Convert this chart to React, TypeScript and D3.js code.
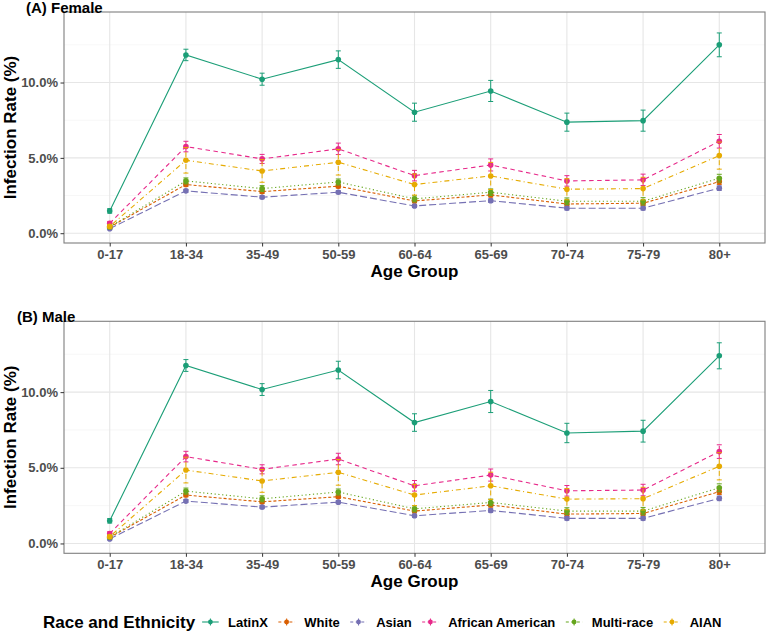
import * as d3 from "d3";
import React from "react";

const ages = ["0-17", "18-34", "35-49", "50-59", "60-64", "65-69", "70-74", "75-79", "80+"];
const races = ["LatinX", "White", "Asian", "African American", "Multi-race", "AIAN"];
const colors = ["#1B9E77", "#D95F02", "#7570B3", "#E7298A", "#66A61E", "#E6AB02"];
const dashes = ["none", "3,2", "7,3", "4.5,3.5", "1.2,2.6", "1,3,5,3"];
const yTicks = [0, 5, 10];
const yMinor = [2.5, 7.5, 12.5];

// Female rates (%) per race, in age order
const femaleLatinX = [1.48, 11.83, 10.22, 11.52, 8.03, 9.44, 7.37, 7.47, 12.5];
const femaleWhite = [0.4, 3.23, 2.76, 3.12, 2.14, 2.54, 1.94, 1.99, 3.42];
const femaleAsian = [0.3, 2.81, 2.39, 2.72, 1.81, 2.16, 1.66, 1.66, 2.99];
const femaleAfrican = [0.66, 5.75, 4.93, 5.6, 3.82, 4.53, 3.47, 3.54, 6.1];
const femaleMulti = [0.42, 3.47, 2.96, 3.4, 2.28, 2.72, 2.12, 2.12, 3.65];
const femaleAIAN = [0.45, 4.84, 4.13, 4.71, 3.23, 3.8, 2.92, 2.96, 5.15];

// Male rates (%)
const maleLatinX = [1.5, 11.76, 10.17, 11.46, 7.99, 9.38, 7.3, 7.42, 12.4];
const maleWhite = [0.4, 3.2, 2.75, 3.09, 2.14, 2.54, 1.94, 1.98, 3.42];
const maleAsian = [0.3, 2.8, 2.4, 2.73, 1.83, 2.18, 1.66, 1.66, 2.98];
const maleAfrican = [0.66, 5.74, 4.9, 5.58, 3.81, 4.52, 3.48, 3.53, 6.07];
const maleMulti = [0.42, 3.46, 2.95, 3.4, 2.29, 2.71, 2.14, 2.14, 3.68];
const maleAIAN = [0.45, 4.85, 4.13, 4.7, 3.2, 3.81, 2.93, 2.96, 5.1];

// Error half-widths (%)
const errLatinXF = [0.15, 0.38, 0.4, 0.58, 0.6, 0.7, 0.6, 0.7, 0.79];
const errLatinXM = [0.15, 0.39, 0.39, 0.58, 0.58, 0.73, 0.64, 0.72, 0.86];
const errWhite = [0.08, 0.12, 0.12, 0.12, 0.12, 0.14, 0.14, 0.15, 0.18];
const errAsian = [0.06, 0.1, 0.1, 0.1, 0.1, 0.12, 0.12, 0.12, 0.15];
const errAfrican = [0.12, 0.35, 0.3, 0.38, 0.35, 0.4, 0.35, 0.38, 0.45];
const errMulti = [0.1, 0.2, 0.2, 0.2, 0.2, 0.22, 0.22, 0.24, 0.26];
const errAIAN = [0.1, 0.85, 0.75, 0.85, 0.7, 0.9, 0.7, 0.75, 0.9];

const femaleSeries = [femaleLatinX, femaleWhite, femaleAsian, femaleAfrican, femaleMulti, femaleAIAN];
const maleSeries = [maleLatinX, maleWhite, maleAsian, maleAfrican, maleMulti, maleAIAN];
const femaleErr = [errLatinXF, errWhite, errAsian, errAfrican, errMulti, errAIAN];
const maleErr = [errLatinXM, errWhite, errAsian, errAfrican, errMulti, errAIAN];

const FONT = "'Liberation Sans', Arial, Helvetica, sans-serif";
const W = 768;
const H = 634;

export default function App() {
  const svgRef = React.useRef<SVGSVGElement>(null);

  React.useEffect(() => {
    const svg = d3.select(svgRef.current);
    svg.selectAll("*").remove();

    const left = 64;
    const right = 765;

    const x = d3.scalePoint<string>().domain(ages).range([left, right]).padding(0.6);

    function panel(top: number, bottom: number, label: string, labelX: number, series: number[][], errs: number[][]) {
      const y = d3.scaleLinear().domain([-0.65, 14.68]).range([bottom, top]);
      const g = svg.append("g");

      // grid
      g.selectAll(".minor")
        .data(yMinor)
        .join("line")
        .attr("x1", left)
        .attr("x2", right)
        .attr("y1", (d) => y(d))
        .attr("y2", (d) => y(d))
        .attr("stroke", "#f2f2f2")
        .attr("stroke-width", 0.6);
      g.selectAll(".major")
        .data(yTicks)
        .join("line")
        .attr("x1", left)
        .attr("x2", right)
        .attr("y1", (d) => y(d))
        .attr("y2", (d) => y(d))
        .attr("stroke", "#e6e6e6")
        .attr("stroke-width", 1.1);
      g.selectAll(".vgrid")
        .data(ages)
        .join("line")
        .attr("x1", (d) => x(d)!)
        .attr("x2", (d) => x(d)!)
        .attr("y1", top)
        .attr("y2", bottom)
        .attr("stroke", "#e6e6e6")
        .attr("stroke-width", 1.1);

      const line = d3
        .line<number>()
        .x((_, i) => x(ages[i])!)
        .y((d) => y(d));

      series.forEach((vals, s) => {
        const sg = g.append("g");
        const err = errs[s];
        sg.selectAll("line.eb")
          .data(vals)
          .join("line")
          .attr("x1", (_, i) => x(ages[i])!)
          .attr("x2", (_, i) => x(ages[i])!)
          .attr("y1", (d, i) => y(d - err[i]))
          .attr("y2", (d, i) => y(d + err[i]))
          .attr("stroke", colors[s])
          .attr("stroke-width", 1)
          .attr("stroke-dasharray", dashes[s]);
        [-1, 1].forEach((sign) => {
          sg.append("g")
            .selectAll("line")
            .data(vals)
            .join("line")
            .attr("x1", (_, i) => x(ages[i])! - 2.5)
            .attr("x2", (_, i) => x(ages[i])! + 2.5)
            .attr("y1", (d, i) => y(d + sign * err[i]))
            .attr("y2", (d, i) => y(d + sign * err[i]))
            .attr("stroke", colors[s])
            .attr("stroke-width", 1);
        });
        sg.append("path")
          .attr("d", line(vals))
          .attr("fill", "none")
          .attr("stroke", colors[s])
          .attr("stroke-width", 1.1)
          .attr("stroke-dasharray", dashes[s]);
        sg.selectAll("circle")
          .data(vals)
          .join("circle")
          .attr("cx", (_, i) => x(ages[i])!)
          .attr("cy", (d) => y(d))
          .attr("r", 2.8)
          .attr("fill", colors[s]);
      });

      // border
      g.append("rect")
        .attr("x", left)
        .attr("y", top)
        .attr("width", right - left)
        .attr("height", bottom - top)
        .attr("fill", "none")
        .attr("stroke", "#7f7f7f")
        .attr("stroke-width", 1.1);

      // y axis
      const yAxis = g.append("g").attr("transform", `translate(${left},0)`).call(d3.axisLeft(y).tickValues(yTicks).tickSize(3.5).tickPadding(2.5).tickFormat((d) => `${(+d).toFixed(1)}%`));
      yAxis.select(".domain").remove();
      yAxis.selectAll(".tick line").attr("stroke", "#333");
      yAxis.selectAll("text").attr("fill", "#4d4d4d").attr("font-size", 13).attr("font-weight", "bold").attr("font-family", FONT);

      const xAxis = g.append("g").attr("transform", `translate(0,${bottom})`).call(d3.axisBottom(x).tickSize(3.5).tickPadding(3));
      xAxis.select(".domain").remove();
      xAxis.selectAll(".tick line").attr("stroke", "#333");
      xAxis.selectAll("text").attr("fill", "#4d4d4d").attr("font-size", 13).attr("font-weight", "bold").attr("font-family", FONT);

      // titles
      g.append("text")
        .attr("x", (left + right) / 2)
        .attr("y", bottom + 33.5)
        .attr("text-anchor", "middle")
        .attr("font-size", 17)
        .attr("font-weight", "bold")
        .attr("font-family", FONT)
        .text("Age Group");
      g.append("text")
        .attr("transform", `translate(15.5,${(top + bottom) / 2}) rotate(-90)`)
        .attr("text-anchor", "middle")
        .attr("font-size", 17)
        .attr("font-weight", "bold")
        .attr("font-family", FONT)
        .text("Infection Rate (%)");
      g.append("text")
        .attr("x", labelX)
        .attr("y", top + 0.5)
        .attr("font-size", 15)
        .attr("font-weight", "bold")
        .attr("font-family", FONT)
        .text(label);
    }

    panel(12, 243, "(A) Female", 26, femaleSeries, femaleErr);
    panel(321.3, 553.3, "(B) Male", 17, maleSeries, maleErr);

    // legend
    const lg = svg.append("g");
    const ly = 622;
    const title = lg
      .append("text")
      .attr("x", 43)
      .attr("y", ly + 5.5)
      .attr("font-size", 17)
      .attr("font-weight", "bold")
      .attr("font-family", FONT)
      .text("Race and Ethnicity");
    let cx = 43 + (title.node() as SVGTextElement).getComputedTextLength() + 7;
    races.forEach((r, s) => {
      lg.append("line")
        .attr("x1", cx)
        .attr("x2", cx + 16.6)
        .attr("y1", ly)
        .attr("y2", ly)
        .attr("stroke", colors[s])
        .attr("stroke-width", 1.1)
        .attr("stroke-dasharray", dashes[s] === "none" ? "none" : "3,2.5");
      lg.append("circle")
        .attr("cx", cx + 8.3)
        .attr("cy", ly)
        .attr("r", 2.4)
        .attr("fill", colors[s]);
      lg.append("line")
        .attr("x1", cx + 8.3)
        .attr("x2", cx + 8.3)
        .attr("y1", ly - 3.5)
        .attr("y2", ly + 3.5)
        .attr("stroke", colors[s])
        .attr("stroke-width", 1);
      const t = lg
        .append("text")
        .attr("x", cx + 26)
        .attr("y", ly + 4.6)
        .attr("font-size", 13)
        .attr("font-weight", "bold")
        .attr("font-family", FONT)
        .text(r);
      cx += 26 + (t.node() as SVGTextElement).getComputedTextLength() + 10.5;
    });
  }, []);

  return (
    <svg
      ref={svgRef}
      width={W}
      height={H}
      viewBox={`0 0 ${W} ${H}`}
      style={{ position: "absolute", left: 0, top: 0, background: "#fff" }}
    />
  );
}
